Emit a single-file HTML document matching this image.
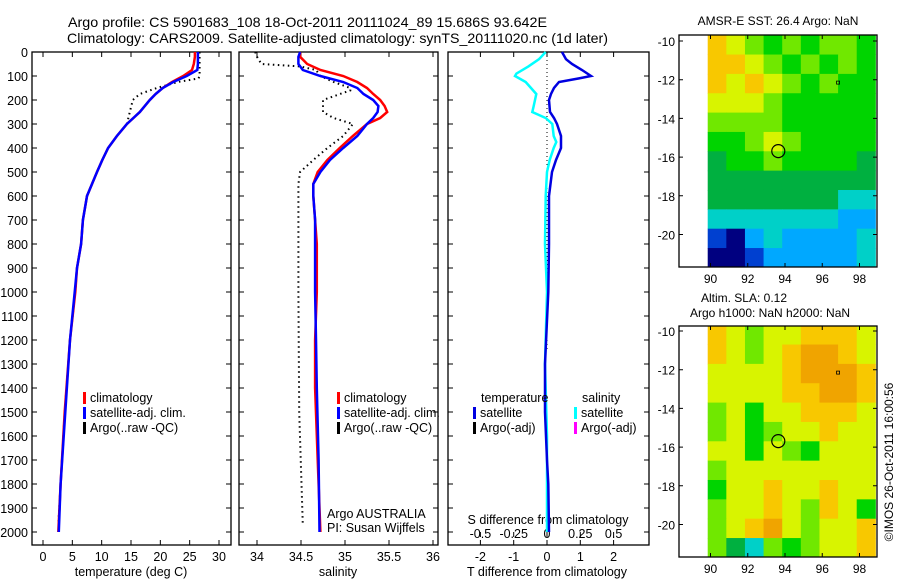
<!DOCTYPE html>
<html><head><meta charset="utf-8">
<style>
html,body{margin:0;padding:0;background:#fff;}
svg{display:block;font-family:"Liberation Sans",sans-serif;}
text{fill:#000;}
</style></head>
<body>
<svg id="fig" width="900" height="580" viewBox="0 0 900 580" xmlns="http://www.w3.org/2000/svg">
<text x="68" y="27" font-size="14" textLength="479" lengthAdjust="spacingAndGlyphs">Argo profile: CS 5901683_108 18-Oct-2011 20111024_89 15.686S 93.642E</text>
<text x="67" y="43" font-size="14" textLength="541" lengthAdjust="spacingAndGlyphs">Climatology: CARS2009. Satellite-adjusted climatology: synTS_20111020.nc (1d later)</text>
<g id="g1"></g>
<g id="g2"></g>
<g id="g3"></g>
<g id="m1"></g>
<g id="m2"></g>
<text transform="translate(893,462) rotate(-90)" font-size="12" text-anchor="middle">©IMOS 26-Oct-2011 16:00:56</text>
</svg>
<script>
// ---- data ----
const depthT = [0,20,50,75,100,125,150,175,200,250,300,350,400,450,500,600,700,800,900,1000,1200,1500,1800,2000];
const tempClim = [25.9,25.9,25.7,25.4,23.9,22.0,20.4,19.2,18.2,16.5,14.3,12.6,11.1,10.1,9.2,7.5,6.8,6.5,5.8,5.5,4.6,3.7,3.0,2.6];
const tempSat  = [26.4,26.4,26.4,26.3,24.5,22.2,20.4,19.2,18.2,16.5,14.3,12.6,11.1,10.1,9.2,7.5,6.8,6.5,5.8,5.4,4.6,3.8,3.0,2.7];
const depthArgoT = [0,50,100,110,125,150,175,200,250,300,350,400,450,500,600,700,800,900,1000,1200,1500,1800,1970];
const tempArgo = [26.7,26.7,26.7,26.5,23.0,19.4,16.5,15.3,14.8,14.3,12.6,11.1,10.1,9.2,7.5,6.8,6.5,5.8,5.5,4.6,3.7,3.0,2.6];

const depthS = [0,20,50,75,100,125,150,175,200,225,250,275,300,350,400,450,500,550,600,700,800,1000,1200,1400,1700,2000];
const salClim = [34.49,34.49,34.57,34.72,34.98,35.14,35.25,35.32,35.40,35.45,35.48,35.40,35.25,35.09,34.94,34.80,34.69,34.64,34.64,34.66,34.68,34.68,34.66,34.66,34.69,34.72];
const salSat  = [34.49,34.47,34.47,34.52,34.72,34.98,35.14,35.21,35.32,35.38,35.37,35.32,35.25,35.14,34.98,34.83,34.72,34.64,34.64,34.66,34.66,34.66,34.67,34.68,34.70,34.71];
const depthArgoS = [0,20,50,60,75,100,125,150,160,200,250,275,300,350,400,450,500,550,600,1000,1500,1970];
const salArgo = [33.98,34.0,34.05,34.49,34.67,34.72,34.87,35.06,35.06,34.75,34.75,34.87,35.09,34.98,34.80,34.64,34.49,34.47,34.47,34.47,34.48,34.52];

const depthD = [0,30,50,75,100,110,125,150,175,200,250,275,300,350,400,450,500,600,800,1000,1300,1500,1700,1800,2000];
const tDiff = [0.45,0.57,0.75,1.05,1.32,0.96,0.36,0.21,0.12,0.06,0.09,0.21,0.30,0.42,0.42,0.27,0.15,0.06,0.06,0.04,-0.06,-0.06,0.0,0.04,0.06];
const depthDS = [0,30,60,90,100,125,150,175,200,225,250,275,300,350,375,400,450,500,600,800,1000,1300,1600,2000];
const sDiff = [-0.01,-0.06,-0.14,-0.23,-0.24,-0.16,-0.12,-0.08,-0.09,-0.10,-0.11,-0.01,0.04,0.05,0.07,0.05,0.02,0.0,-0.01,-0.015,0.0,-0.015,0.0,0.0];

const depthTicks = [0,100,200,300,400,500,600,700,800,900,1000,1100,1200,1300,1400,1500,1600,1700,1800,1900,2000];
const tempTicks = [0,5,10,15,20,25,30];
const salTicks = [34,34.5,35,35.5,36];
const salTickLabels = ["34","34.5","35","35.5","36"];
const tDiffTicks = [-2,-1,0,1,2];
const sDiffTicks = [-0.5,-0.25,0,0.25,0.5];
const sDiffTickLabels = ["-0.5","-0.25","0","0.25","0.5"];

const lonTicks = [90,92,94,96,98];
const latTicks = [-10,-12,-14,-16,-18,-20];
const sstGrid = [
[8,7,6,5,6,5,6,6,5],
[8,8,7,6,5,6,5,6,5],
[8,7,8,7,6,5,6,5,5],
[7,7,7,6,5,5,5,5,5],
[6,6,6,6,5,5,5,5,5],
[5,5,6,7,6,5,5,5,5],
[4,5,5,6,5,5,5,5,4],
[4,4,4,4,4,4,4,4,4],
[4,4,4,4,4,4,4,3,3],
[3,3,3,3,3,3,3,2,2],
[1,0,2,3,2,2,2,2,3],
[0,0,1,2,2,2,2,2,3]];
const slaGrid = [
[8,7,6,7,7,8,8,8,7],
[8,7,6,7,8,9,9,8,7],
[7,7,7,7,8,9,9,9,8],
[7,7,7,7,8,8,9,9,8],
[6,7,5,7,7,8,8,8,7],
[6,7,5,6,7,7,8,7,7],
[7,7,5,7,6,5,7,7,7],
[6,7,7,7,7,7,7,7,7],
[5,7,7,8,7,7,8,7,7],
[6,7,7,8,7,6,8,7,5],
[6,7,8,9,7,6,7,7,8],
[6,4,3,6,5,6,7,7,8]];
const palette = ["#000080","#0040d0","#00a8ff","#00d0c8","#00b040","#00d400","#70e800","#d8f400","#f8c800","#f0a400"];

// ---- helpers ----
const NS="http://www.w3.org/2000/svg";
function mk(parent,tag,attrs){const e=document.createElementNS(NS,tag);for(const k in attrs)e.setAttribute(k,attrs[k]);parent.appendChild(e);return e;}
function lin(d0,d1,r0,r1){return v=>r0+(v-d0)*(r1-r0)/(d1-d0);}
const yD = lin(0,2000,52,532);
const Y0=52, Y1=545;
const FS=12.5;

function frame(g,x0,x1,y0,y1){
  const r=mk(g,'rect',{x:x0,y:y0,width:x1-x0,height:y1-y0,fill:'none',stroke:'#000','stroke-width':1.3});
  
  
}
function depthAxis(g,x0,x1,labels){
  depthTicks.forEach(d=>{
    const y=yD(d);
    const t=mk(g,'path',{d:`M${x0},${y}h5M${x1},${y}h-5`,stroke:'#000','stroke-width':1});
    
    
    if(labels){
      const l=mk(g,'text',{x:x0-4,y:y+5,'font-size':FS,'text-anchor':'end'});
      l.textContent=d;
      
      
    }
  });
}
function line(g,xs,ds,xf,color,w,dash,name){
  const pts=xs.map((v,i)=>`${xf(v).toFixed(1)},${yD(ds[i]).toFixed(1)}`).join(' ');
  const p=mk(g,'polyline',{points:pts,fill:'none',stroke:color,'stroke-width':w});
  if(dash)p.setAttribute('stroke-dasharray',dash);
  
  
}
function txt(g,x,y,s,size,anchor,name){
  const t=mk(g,'text',{x:x,y:y,'font-size':size,'text-anchor':anchor||'start'});
  t.textContent=s;
  
  
  return t;
}
function legend(g,x,y,color,label,name){
  const b=mk(g,'rect',{x:x,y:y-10,width:3,height:12,fill:color});
  
  
  txt(g,x+7,y,label,FS,'start',name);
}

// ---- panel 1 temperature ----
{
const g=document.getElementById('g1');
const xT=lin(0,30,43,219);
frame(g,32,231,Y0,Y1);
depthAxis(g,32,231,true);
tempTicks.forEach(v=>{
  const x=xT(v);
  const t=mk(g,'path',{d:`M${x},${Y1}v-5M${x},${Y0}v5`,stroke:'#000'});
  
  
  txt(g,x,561,String(v),FS,'middle','temp-tick-label');
});
txt(g,131,576,'temperature (deg C)',FS,'middle','x-axis-title-temperature');
line(g,tempArgo,depthArgoT,xT,'#000',2,'1.5,3.5','argo-temp-line');
line(g,tempClim,depthT,xT,'#ff0000',2.5,null,'clim-temp-line');
line(g,tempSat,depthT,xT,'#0000ff',2.5,null,'sat-temp-line');
legend(g,83,402,'#ff0000','climatology','legend-climatology');
legend(g,83,417,'#0000ff','satellite-adj. clim.','legend-satellite');
legend(g,83,432,'#000','Argo(..raw -QC)','legend-argo');
}
// ---- panel 2 salinity ----
{
const g=document.getElementById('g2');
const xS=lin(34,35,257,345);
frame(g,239,438,Y0,Y1);
depthAxis(g,239,438,false);
salTicks.forEach((v,i)=>{
  const x=xS(v);
  const t=mk(g,'path',{d:`M${x},${Y1}v-5M${x},${Y0}v5`,stroke:'#000'});
  
  
  txt(g,x,561,salTickLabels[i],FS,'middle','sal-tick-label');
});
txt(g,338,576,'salinity',FS,'middle','x-axis-title-salinity');
line(g,salArgo,depthArgoS,xS,'#000',2,'1.5,3.5','argo-sal-line');
line(g,salClim,depthS,xS,'#ff0000',2.5,null,'clim-sal-line');
line(g,salSat,depthS,xS,'#0000ff',2.5,null,'sat-sal-line');
legend(g,337,402,'#ff0000','climatology','legend-climatology');
legend(g,337,417,'#0000ff','satellite-adj. clim.','legend-satellite');
legend(g,337,432,'#000','Argo(..raw -QC)','legend-argo');
txt(g,327,518,'Argo AUSTRALIA',FS,'start','credit-argo-australia');
txt(g,327,532,'PI: Susan Wijffels',FS,'start','credit-pi');
}
// ---- panel 3 differences ----
{
const g=document.getElementById('g3');
const xTd=lin(0,1,547,580.3);
const xSd=lin(0,0.25,547,580.3);
frame(g,448,649,Y0,Y1);
depthAxis(g,448,649,false);
tDiffTicks.forEach(v=>{
  const x=xTd(v);
  const t=mk(g,'path',{d:`M${x},${Y1}v-5M${x},${Y0}v5`,stroke:'#000'});
  
  
  txt(g,x,561,String(v),FS,'middle','tdiff-tick-label');
});
sDiffTicks.forEach((v,i)=>{
  const x=xSd(v);
  const t=mk(g,'path',{d:`M${x},537v-5`,stroke:'#000'});
  
  
  txt(g,x,538,sDiffTickLabels[i],FS,'middle','sdiff-tick-label');
});
txt(g,548,524,'S difference from climatology',FS,'middle','sdiff-axis-title');
txt(g,547,576,'T difference from climatology',FS,'middle','tdiff-axis-title');
const z=mk(g,'line',{x1:547,x2:547,y1:52,y2:352,stroke:'#000','stroke-dasharray':'1,3'});


line(g,sDiff,depthDS,xSd,'#00ffff',2.5,null,'sat-sal-diff-line');
line(g,tDiff,depthD,xTd,'#0000e0',2.5,null,'sat-temp-diff-line');
txt(g,481,402,'temperature',FS,'start','legend-temperature-heading');
legend(g,473,417,'#0000e0','satellite','legend-temp-satellite');
legend(g,473,432,'#000','Argo(-adj)','legend-temp-argo');
txt(g,582,402,'salinity',FS,'start','legend-salinity-heading');
legend(g,574,417,'#00ffff','satellite','legend-sal-satellite');
legend(g,574,432,'#ff00ff','Argo(-adj)','legend-sal-argo');
}
// ---- maps ----
function drawMap(id,grid,top,bottom,latRef,titles){
  const g=document.getElementById(id);
  const xL=lin(90,98,710.5,859.5);
  const yL=lin(-10,-20,latRef,latRef+193.5);
  const x0=679,x1=877;
  const latTop=-9.7, lonLeft=89.85;
  grid.forEach((row,r)=>row.forEach((v,c)=>{
    const lx0=lonLeft+c, lx1=Math.min(lonLeft+c+1,98.9);
    const ly0=latTop-r, ly1=Math.max(latTop-r-1,-21.65);
    const px0=xL(lx0), px1=xL(lx1), py0=Math.max(yL(ly0),top), py1=Math.min(yL(ly1),bottom);
    const cell=mk(g,'rect',{x:px0,y:py0,width:px1-px0+0.5,height:py1-py0+0.5,fill:palette[v]});
    
    
  }));
  frame(g,x0,x1,top,bottom);
  lonTicks.forEach(v=>{
    const x=xL(v);
    const t=mk(g,'path',{d:`M${x},${bottom}v-4M${x},${top}v4`,stroke:'#000'});
    
    
    txt(g,x,bottom+16,String(v),12,'middle','lon-tick-label');
  });
  latTicks.forEach(v=>{
    const y=yL(v);
    const t=mk(g,'path',{d:`M${x0},${y}h4M${x1},${y}h-4`,stroke:'#000'});
    
    
    txt(g,x0-4,y+5,String(v),12,'end','lat-tick-label');
  });
  const c=mk(g,'circle',{cx:xL(93.64),cy:yL(-15.69),r:6.5,fill:'none',stroke:'#000','stroke-width':1.2});
  
  
  const d=mk(g,'rect',{x:xL(96.85)-1.5,y:yL(-12.15)-1.5,width:3,height:3,fill:'none',stroke:'#000','stroke-width':0.8});
  
  
  titles.forEach(t=>txt(g,t[1],t[2],t[0],12,'middle','map-title'));
}
drawMap('m1',sstGrid,35,267,41,[['AMSR-E SST: 26.4 Argo: NaN',778,25]]);
drawMap('m2',slaGrid,326,557,331,[['Altim. SLA: 0.12',744,302],['Argo h1000: NaN h2000: NaN',770,317]]);
</script>
</body></html>
